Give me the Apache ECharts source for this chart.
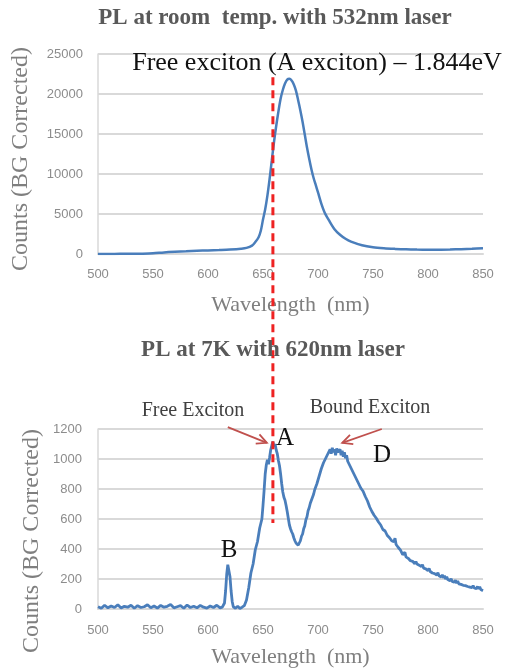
<!DOCTYPE html>
<html><head><meta charset="utf-8">
<script src="https://cdn.jsdelivr.net/npm/echarts@6/dist/echarts.min.js"></script>
<style>html,body{margin:0;padding:0;background:#fff}#c{width:509px;height:671px}</style>
</head><body><div id="c"></div>
<script>
// ---- data ----
const xTicks = [500, 550, 600, 650, 700, 750, 800, 850];
const yTicksRT = [0, 5000, 10000, 15000, 20000, 25000];
const yTicks7K = [0, 200, 400, 600, 800, 1000, 1200];
const titleRT = 'PL at room  temp. with 532nm laser';
const title7K = 'PL at 7K with 620nm laser';
const xName = 'Wavelength  (nm)';
const yName = 'Counts (BG Corrected)';
// room temperature spectrum [wavelength nm, counts]
const plRT = [[500,0],[510,10],[520,20],[530,30],[540,40],[550,80],[560,200],[570,280],[580,340],[590,400],[600,450],[610,500],[620,560],[630,660],[635,760],[640,1050],[643,1500],[646,2100],[648,2900],[650,4300],[652,5600],[654,7300],[656,9400],[658,11700],[660,14000],[662,16000],[664,17800],[666,19400],[668,20500],[670,21300],[672,21800],[674,21900],[676,21700],[678,21200],[680,20400],[682,19200],[684,17900],[686,16500],[688,14900],[690,13300],[692,11900],[694,10600],[696,9500],[698,8600],[700,7700],[703,6300],[706,5200],[710,4200],[715,3100],[720,2400],[725,1900],[730,1550],[740,1100],[750,850],[760,720],[770,640],[780,580],[790,550],[800,540],[810,540],[820,560],[830,600],[840,650],[850,720]];
// 7K spectrum [wavelength nm, counts]
const pl7K = [[500,15],[503,5],[506,25],[509,8],[512,20],[515,10],[518,28],[521,6],[524,18],[527,12],[530,25],[533,5],[536,22],[539,10],[542,15],[545,28],[548,8],[551,20],[554,6],[557,24],[560,12],[563,18],[566,30],[569,8],[572,15],[575,22],[578,5],[581,26],[584,10],[587,18],[590,8],[593,24],[596,12],[599,6],[602,20],[605,10],[608,25],[611,8],
[613,12],[615,40],[616,120],[617,230],[618,295],[619,290],[620,215],[621,120],[622,50],[623,15],[625,5],[627,18],[629,4],[631,12],[633,22],[635,60],[637,140],[639,240],[641,300],[643,395],[645,450],[647,540],[649,600],[650,690],[651,790],[652,900],[653,960],[654,995],[655,965],[656,1010],[657,1060],[658,1090],[659,1115],[660,1085],[661,1100],[662,1060],[663,1035],[664,990],[665,955],[666,900],[667,835],[668,780],[669,745],[670,725],[671,690],[672,650],[673,605],[674,560],[675,535],[676,515],[677,500],[678,475],[679,455],[680,440],[681,430],[682,425],[683,440],[684,455],[685,485],[686,500],[687,535],[688,555],[689,595],[690,615],[691,655],[692,675],[693,705],[694,715],[695,745],[696,765],[697,795],[698,800],[699,835],[700,845],[701,885],[702,895],[703,935],[704,945],[705,975],[706,985],[707,1005],[708,1015],[709,1035],[710,1045],[711,1065],[712,1035],[713,1075],[714,1045],[715,1065],[716,1025],[717,1070],[718,1045],[719,1035],[720,1065],[721,1025],[722,1055],[723,1015],[724,1045],[725,1005],[726,1025],[727,985],[728,995],[729,955],[730,965],[731,925],[732,935],[733,895],[734,905],[735,865],[736,870],[737,835],[738,845],[739,805],[740,815],[741,785],[742,775],[743,750],[744,735],[745,720],[746,700],[747,680],[748,665],[749,650],[750,640],[751,625],[752,615],[753,605],[754,600],[755,580],[756,572],[757,560],[758,555],[759,530],[760,528],[761,520],[762,510],[763,490],[764,488],[765,475],[766,478],[767,455],[768,460],[769,448],[770,472],[771,430],[772,425],[773,410],[774,398],[775,392],[776,380],[777,362],[778,350],[779,378],[780,348],[781,352],[782,338],[783,345],[784,322],[785,335],[786,318],[787,325],[788,302],[789,316],[790,300],[791,308],[792,292],[793,300],[794,282],[795,296],[796,272],[797,285],[798,268],[799,276],[800,256],[801,270],[802,250],[803,262],[804,240],[805,252],[806,236],[807,248],[808,226],[809,242],[810,222],[811,232],[812,214],[813,228],[814,208],[815,222],[816,200],[817,214],[818,196],[819,208],[820,188],[821,202],[822,184],[823,196],[824,178],[825,192],[826,172],[827,186],[828,168],[829,180],[830,164],[831,176],[832,158],[833,170],[834,156],[835,168],[836,150],[837,162],[838,146],[839,158],[840,142],[841,156],[842,140],[843,152],[844,136],[845,150],[846,134],[847,148],[848,130],[849,140],[850,122]];
// annotation anchors (data coordinates)
const markerWavelength = 659;
const markerTopCount = 22100;   // top end (room-temp panel)
const markerBottomCount = 573;  // bottom end (7K panel)
const freeArrow = [[618, 1213], [653.5, 1108]];
const boundArrow = [[758, 1200], [722, 1108]];

// ---- chart ----
const chart = echarts.init(document.getElementById('c'));
const serif = '"Liberation Serif", "DejaVu Serif", serif';
const gridColor = '#d9d9d9';
function xAxis(gi, gap, margin) {
  return {
    type: 'value', gridIndex: gi,
    min: xTicks[0], max: xTicks[xTicks.length - 1], interval: xTicks[1] - xTicks[0],
    axisLine: { show: true, lineStyle: { color: gridColor, width: 2 } },
    axisTick: { show: false }, splitLine: { show: false },
    axisLabel: { color: '#8c8c8c', fontFamily: '"Liberation Sans", sans-serif', fontSize: 13, margin: margin,
      formatter: v => String(v) },
    name: xName, nameLocation: 'middle', nameGap: gap,
    nameTextStyle: { fontFamily: serif, fontSize: 22, color: '#7f7f7f' }
  };
}
function yAxis(gi, ticks, margin) {
  return {
    type: 'value', gridIndex: gi,
    min: ticks[0], max: ticks[ticks.length - 1], interval: ticks[1] - ticks[0],
    axisLine: { show: true, lineStyle: { color: gridColor, width: 1.5 } },
    axisTick: { show: false },
    splitLine: { show: true, lineStyle: { color: gridColor, width: 2 } },
    axisLabel: { color: '#8c8c8c', fontFamily: '"Liberation Sans", sans-serif', fontSize: 13, margin: margin,
      formatter: v => String(v) }
  };
}
chart.setOption({
  animation: false,
  backgroundColor: '#ffffff',
  grid: [
    { left: 98, right: 26, top: 54, height: 200 },
    { left: 98, right: 26, top: 429, height: 180 }
  ],
  xAxis: [xAxis(0, 40, 14), xAxis(1, 37, 15)],
  yAxis: [yAxis(0, yTicksRT, 15), yAxis(1, yTicks7K, 16)],
  series: [
    { type: 'line', xAxisIndex: 0, yAxisIndex: 0, data: plRT, showSymbol: false, smooth: 0.3,
      lineStyle: { color: '#4a7ebb', width: 2.5 }, z: 3 },
    { type: 'line', xAxisIndex: 1, yAxisIndex: 1, data: pl7K, showSymbol: false,
      lineStyle: { color: '#4a7ebb', width: 2.8 }, z: 3 }
  ]
});

function txt(text, x, y, size, color, weight, rot) {
  return { type: 'text', x: x, y: y, rotation: rot || 0, z: 110,
    style: { text: text, font: (weight || 'normal') + ' ' + size + 'px ' + serif, fill: color, align: 'center', verticalAlign: 'middle' } };
}
function arrow(p, q, color) {
  const dx = q[0] - p[0], dy = q[1] - p[1], L = Math.hypot(dx, dy), ux = dx / L, uy = dy / L;
  const hl = 10, hw = 5, bx = q[0] - ux * hl, by = q[1] - uy * hl;
  return [
    { type: 'line', z: 100, shape: { x1: p[0], y1: p[1], x2: q[0], y2: q[1] }, style: { stroke: color, lineWidth: 1.8 } },
    { type: 'polyline', z: 100, shape: { points: [[bx - uy * hw, by + ux * hw], [q[0], q[1]], [bx + uy * hw, by - ux * hw]] }, style: { stroke: color, lineWidth: 1.8, fill: null } }
  ];
}
const pTop = chart.convertToPixel({ gridIndex: 0 }, [markerWavelength, markerTopCount]);
const pBot = chart.convertToPixel({ gridIndex: 1 }, [markerWavelength, markerBottomCount]);
const fa = freeArrow.map(d => chart.convertToPixel({ gridIndex: 1 }, d));
const ba = boundArrow.map(d => chart.convertToPixel({ gridIndex: 1 }, d));
const arrowColor = '#c0504d';
chart.setOption({
  graphic: [
    txt(titleRT, 275, 18, 23, '#595959', 'bold'),
    txt(title7K, 273, 350, 23, '#595959', 'bold'),
    txt(yName, 21, 159, 24, '#7f7f7f', 'normal', Math.PI / 2),
    txt(yName, 32, 541, 24, '#7f7f7f', 'normal', Math.PI / 2),
    txt('Free exciton (A exciton) \u2013 1.844eV', 317, 63, 26, '#111111'),
    txt('Free Exciton', 193, 411, 20, '#404040'),
    txt('Bound Exciton', 370, 408, 20, '#404040'),
    txt('A', 285, 438, 25, '#111111'),
    txt('D', 382, 455, 25, '#111111'),
    txt('B', 229, 550, 25, '#111111'),
    { type: 'line', z: 105, shape: { x1: pTop[0], y1: pTop[1], x2: pBot[0], y2: pBot[1] },
      style: { stroke: '#ee2222', lineWidth: 3, lineDash: [8, 5] } }
  ].concat(arrow(fa[0], fa[1], arrowColor), arrow(ba[0], ba[1], arrowColor))
});
</script></body></html>
